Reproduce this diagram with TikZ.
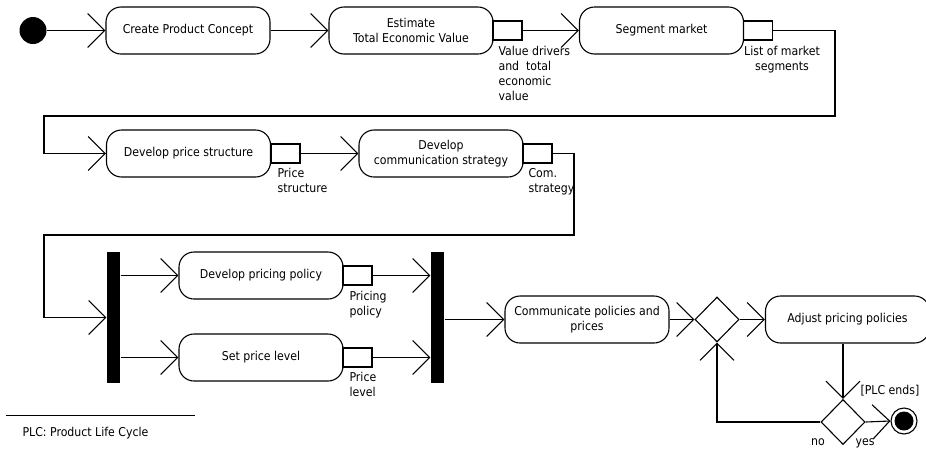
\documentclass[tikz,border=0pt]{standalone}
\usepackage{fontspec}
\setmainfont{DejaVu Sans Condensed}
\usetikzlibrary{arrows.meta,shapes.geometric}

\begin{document}
\begin{tikzpicture}[x=1pt,y=-1pt,line width=1.1pt,
  every node/.style={font=\fontsize{12.2}{15}\selectfont},
  act/.style={draw,rounded corners=15pt,minimum width=164pt,minimum height=47pt,
              align=center,inner sep=0pt},
  pinbox/.style={draw,minimum width=29pt,minimum height=19pt,inner sep=0pt},
  bar/.style={fill=black,minimum width=13pt,minimum height=131pt,inner sep=0pt},
  choice/.style={draw,diamond,minimum width=44pt,minimum height=45pt,inner sep=0pt},
  lbl/.style={inner sep=0pt,align=left,anchor=north west},
  flow/.style={-{Straight Barb[length=17pt,width=34pt]}},
]
\useasboundingbox (0,0) rectangle (926,448);

% initial node and first row of actions
\node[circle,fill=black,minimum size=27pt,inner sep=0pt] (start) at (33,30.5) {};
\node[act] (concept) at (188,30.5) {Create Product Concept};
\node[act] (tev) at (411,30.5) {Estimate\\Total Economic Value};
\node[pinbox] (tevpin) at (507.5,30.5) {};
\node[act] (segment) at (661.5,30.5) {Segment market};
\node[pinbox] (segpin) at (758,30.5) {};

% second row
\node[act] (structure) at (188.5,153.5) {Develop price structure};
\node[pinbox] (strpin) at (285.5,153.5) {};
\node[act] (comm) at (441,153.5) {Develop\\communication strategy};
\node[pinbox] (compin) at (537.5,153.5) {};

% fork / join section
\node[bar] (fork) at (113.5,317.5) {};
\node[act] (policy) at (261,275.5) {Develop pricing policy};
\node[pinbox] (polpin) at (357.5,275.5) {};
\node[act] (level) at (261,357.5) {Set price level};
\node[pinbox] (levpin) at (357.5,357.5) {};
\node[bar] (join) at (437.5,317.5) {};
\node[act] (communicate) at (587,319.5) {Communicate policies and\\prices};
\node[choice] (merge) at (717,319.5) {};
\node[act] (adjust) at (847.5,319.5) {Adjust pricing policies};
\node[choice] (decide) at (843,422) {};
\node[circle,draw,minimum size=26pt,inner sep=0pt] (final) at (904,421) {};
\fill (final.center) circle (9.5pt);

% object pin labels
\node[lbl] (tevlbl) at (498,46) {Value drivers\\and\ \ total\\economic\\value};
\node[inner sep=0pt,align=center,anchor=north] (seglbl) at (782,46) {List of market\\segments};
\node[lbl] (strlbl) at (277,168) {Price\\structure};
\node[lbl] (comlbl) at (528,168) {Com.\\strategy};
\node[lbl] (pollbl) at (349,291) {Pricing\\policy};
\node[lbl] (levlbl) at (349,372) {Price\\level};

% guards
\node[inner sep=0pt,anchor=west] (guard) at (860,391) {[PLC ends]};
\node[inner sep=0pt,anchor=base] (no) at (818,445) {no};
\node[inner sep=0pt,anchor=base] (yes) at (865,445) {yes};

% routing points
\coordinate (r1) at (835,30.5);
\coordinate (l1) at (44,116);
\coordinate (r2) at (574,153.5);
\coordinate (l2) at (44,235);

% control flow
\draw[flow] (start.east) -- (concept.west);
\draw[flow] (concept.east) -- (tev.west);
\draw[flow] (tevpin.east) -- (segment.west);
\draw[flow] (segpin.east) -- (r1) -- (r1 |- l1) -- (l1) -- (l1 |- structure.west) -- (structure.west);
\draw[flow] (strpin.east) -- (comm.west);
\draw[flow] (compin.east) -- (r2) -- (r2 |- l2) -- (l2) -- (l2 |- fork.west) -- (fork.west);
\draw[flow] (fork.east |- policy.west) -- (policy.west);
\draw[flow] (fork.east |- level.west) -- (level.west);
\draw[flow] (polpin.east) -- (join.west |- polpin.east);
\draw[flow] (levpin.east) -- (join.west |- levpin.east);
\draw[flow] (join.east |- communicate.west) -- (communicate.west);
\draw[flow] (communicate.east) -- (merge.west);
\draw[flow] (merge.east) -- (adjust.west);
\draw[flow] (decide.north |- adjust.south) -- (decide.north);
\draw[flow] (decide.east) -- (final.west);
\draw[flow] (decide.west) -- (merge.south |- decide.west) -- (merge.south);

% footnote
\draw[line width=0.9pt] (6,415) -- (195,415);
\node[inner sep=0pt,anchor=west] (note) at (22,433) {PLC: Product Life Cycle};
\end{tikzpicture}
\end{document}
